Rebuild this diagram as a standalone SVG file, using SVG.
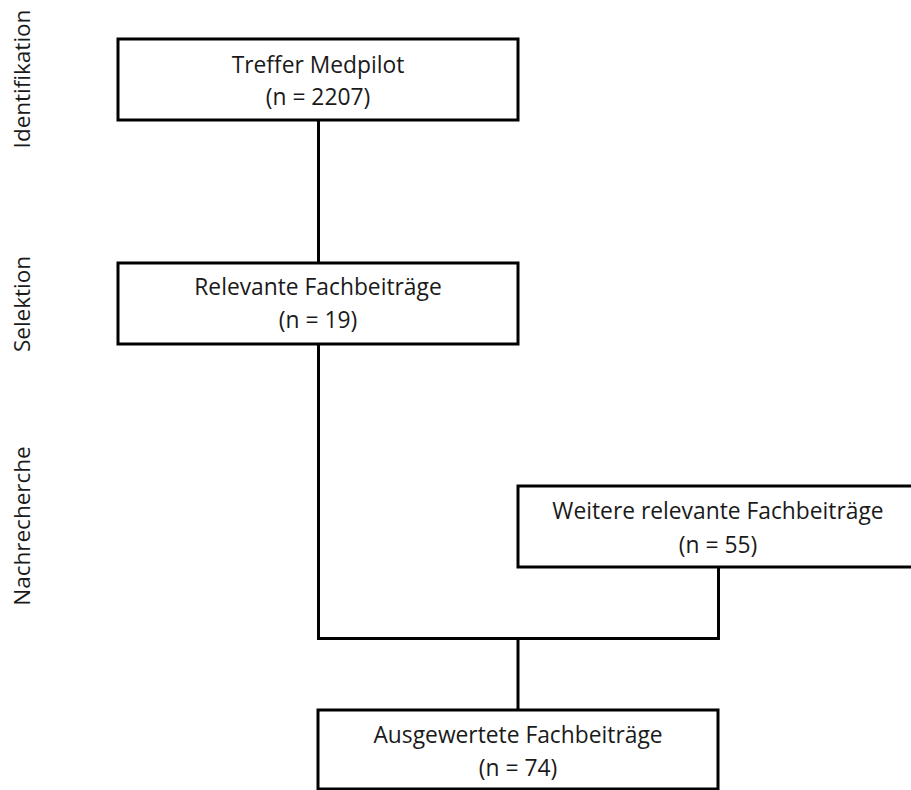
<svg xmlns="http://www.w3.org/2000/svg" width="911" height="790" viewBox="0 0 911 790">
<style>
.box{fill:#fff;stroke:#000;stroke-width:3}
.t{font-family:"Open Sans","Liberation Sans",sans-serif;font-size:22.8px;fill:#1a1a1a;text-anchor:middle}
.side{font-family:"Open Sans","Liberation Sans",sans-serif;font-size:22.5px;fill:#1a1a1a;text-anchor:middle}
.c{fill:none;stroke:#000;stroke-width:3}
</style>
<rect width="911" height="790" fill="#fff"/>
<g id="labels">
<text class="side" transform="translate(30,79) rotate(-90)">Identifikation</text>
<text class="side" transform="translate(30,304) rotate(-90)">Selektion</text>
<text class="side" transform="translate(30,526) rotate(-90)">Nachrecherche</text>
</g>
<g id="connectors">
<line class="c" x1="318.5" y1="120" x2="318.5" y2="263"/>
<polyline class="c" points="318.5,344 318.5,638.5 718.5,638.5 718.5,566"/>
<line class="c" x1="518" y1="638" x2="518" y2="710"/>
</g>
<g id="n1">
<rect class="box" x="118" y="39" width="400" height="81"/>
<text class="t" x="318" y="73">Treffer Medpilot</text>
<text class="t" x="318" y="105">(n = 2207)</text>
</g>
<g id="n2">
<rect class="box" x="118" y="263" width="400" height="81"/>
<text class="t" x="318" y="295">Relevante Fachbeiträge</text>
<text class="t" x="318" y="328">(n = 19)</text>
</g>
<g id="n3">
<rect class="box" x="518" y="486" width="400" height="81"/>
<text class="t" x="718" y="519">Weitere relevante Fachbeiträge</text>
<text class="t" x="718" y="553">(n = 55)</text>
</g>
<g id="n4">
<rect class="box" x="318" y="710" width="400" height="79"/>
<text class="t" x="518" y="743">Ausgewertete Fachbeiträge</text>
<text class="t" x="518" y="776">(n = 74)</text>
</g>
</svg>
